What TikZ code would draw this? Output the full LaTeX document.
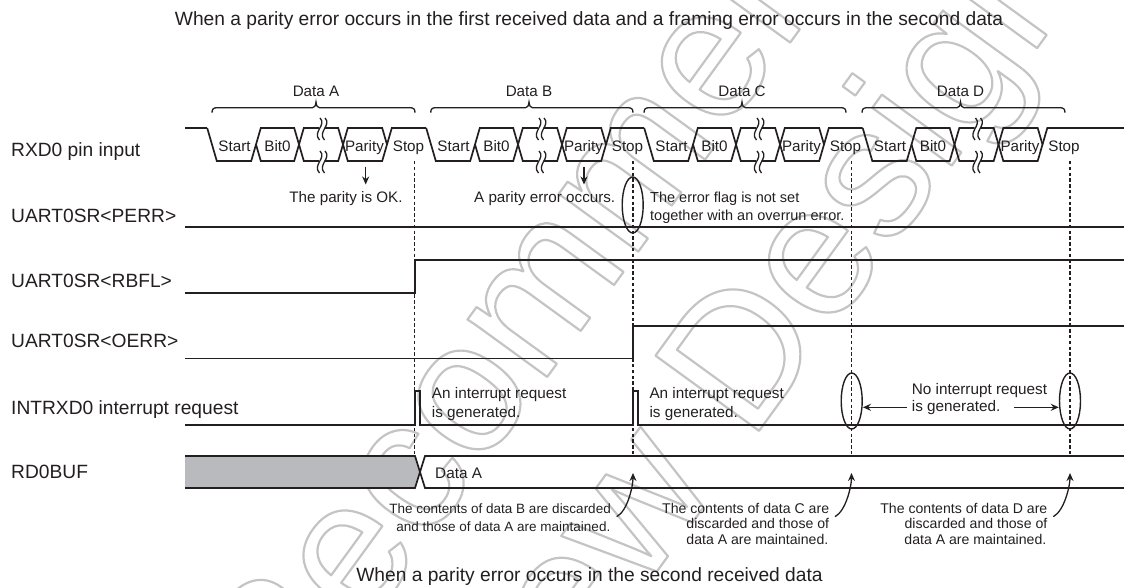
\documentclass[tikz,border=0pt]{standalone}
\usepackage{fontspec}
\setmainfont{Liberation Sans}
\usetikzlibrary{arrows.meta,shapes.geometric}
\definecolor{ink}{HTML}{231F20}
\definecolor{wm}{HTML}{C4C4C4}
\definecolor{greyfill}{HTML}{B9BABD}
\font\wmfont="Liberation Sans" at 186pt
\newcommand{\outlined}[1]{\special{pdf:code 1 Tr 2.2 w 1 j}\wmfont #1\special{pdf:code 0 Tr}}
\tikzset{
  sig/.style={draw=ink,line width=1.7pt,line join=miter},
  guide/.style={draw=ink,line width=1.4pt,dash pattern=on 3.4pt off 2.4pt},
  thin sig/.style={draw=ink,line width=1.3pt},
  oval/.style={ellipse,draw=ink,line width=1.4pt,inner sep=0pt,minimum width=21pt,minimum height=56pt},
  tip/.style={draw=ink,line width=1.3pt,-{Stealth[length=8pt,width=7pt]}},
  water/.style={anchor=base west,inner sep=0pt,rotate=54,text=wm},
  rowlabel/.style={anchor=base west,font=\fontsize{19.2}{22}\selectfont,text=ink,inner sep=0pt},
  title/.style={anchor=base,font=\fontsize{19.2}{22}\selectfont,text=ink,inner sep=0pt},
  bit/.style={anchor=base,font=\fontsize{15.2}{18}\selectfont,text=ink,inner sep=0pt},
  note/.style={anchor=base west,font=\fontsize{15.3}{18}\selectfont,text=ink,inner sep=0pt},
  flagnote/.style={anchor=base west,font=\fontsize{14.5}{18}\selectfont,text=ink,inner sep=0pt},
  small/.style={anchor=base east,font=\fontsize{13.5}{16}\selectfont,text=ink,inner sep=0pt},
  smalltwo/.style={anchor=base east,font=\fontsize{14.1}{16}\selectfont,text=ink,inner sep=0pt},
}
\begin{document}
\begin{tikzpicture}[x=1pt,y=-1pt]
\useasboundingbox (0,0) rectangle (1124,587);
% watermark
\begin{scope}
\clip (0,0) rectangle (1124,587);
\node[water] (wm1) at (284.4,738.7) {\outlined{Recommended}};
\node[water] (wm2) at (501,786) {\outlined{New Design}};
\end{scope}
% titles
\node[title] (t1) at (589,25) {When a parity error occurs in the first received data and a framing error occurs in the second data};
\node[title] (t2) at (589.5,581.7) {When a parity error occurs in the second received data};
% row labels
\node[rowlabel] (l1) at (11,156.5) {RXD0 pin input};
\node[rowlabel] (l2) at (11,222.8) {UART0SR<PERR>};
\node[rowlabel] (l3) at (11,287.5) {UART0SR<RBFL>};
\node[rowlabel] (l4) at (11,347.5) {UART0SR<OERR>};
\node[rowlabel] (l5) at (11,414) {INTRXD0 interrupt request};
\node[rowlabel] (l6) at (11,478) {RD0BUF};
% RXD0 frames
\def\hi{128}\def\lo{161}\def\mi{144.5}\def\dd{4.8}
\draw[sig] (185,\hi) -- (207.2,\hi);
\foreach \s/\nx/\n/\bl/\br/\bt in {212/431/A/212/415/316,431/649/B/430.7/633/529,649/867.5/C/644/846/742,867.5/1124/D/862/1065/960.5}{
  \pgfmathsetmacro{\tone}{\s+44}
  \pgfmathsetmacro{\ttwo}{\s+87}
  \pgfmathsetmacro{\cc}{\s+109.5}
  \pgfmathsetmacro{\tthree}{\s+131}
  \pgfmathsetmacro{\tfour}{\s+175}
  \pgfmathsetmacro{\stopend}{\nx==1124?1124:\nx-\dd}
  \draw[sig] (\s-\dd,\hi) -- (\s+\dd,\lo) -- (\tone-\dd,\lo) -- (\tone+\dd,\hi) -- (\ttwo-\dd,\hi) -- (\ttwo+\dd,\lo) -- (\cc-2.5,\lo);
  \draw[sig] (\tone,\mi) -- (\tone+\dd,\lo) -- (\ttwo-\dd,\lo) -- (\ttwo+\dd,\hi) -- (\cc-2.5,\hi);
  \draw[sig] (\cc+3,\hi) -- (\tthree-\dd,\hi) -- (\tthree+\dd,\lo) -- (\tfour-\dd,\lo) -- (\tfour+\dd,\hi) -- (\stopend,\hi);
  \draw[sig] (\cc+3,\lo) -- (\tthree-\dd,\lo) -- (\tthree+\dd,\hi) -- (\tfour-\dd,\hi) -- (\tfour,\mi);
  % break marks
  \foreach \off in {-2.5,2.5}{
    \foreach \ya/\yb in {118/140,151/173}{
      \draw[thin sig] (\cc+\off+1,\ya) .. controls (\cc+\off+8,\ya+7) and (\cc+\off-7,\yb-8) .. (\cc+\off+0.5,\yb);
    }
  }
  % bit labels
  \node[bit] (start\n) at (\s+22.5,151) {Start};
  \node[bit] (bit\n) at (\s+65.5,151) {Bit0};
  \node[bit] (par\n) at (\s+152.5,151) {Parity};
  \node[bit] (stop\n) at (\s+196.5,151) {Stop};
  % brace
  \draw[thin sig] (\bl,112.7) .. controls (\bl,109) and (\bl+1.5,107.7) .. (\bl+5,107.7) -- (\bt-3.5,107.7) .. controls (\bt-1.5,107.7) and (\bt-0.5,106) .. (\bt,102) .. controls (\bt+0.5,106) and (\bt+1.5,107.7) .. (\bt+3.5,107.7) -- (\br-5,107.7) .. controls (\br-1.5,107.7) and (\br,109) .. (\br,112.7);
  \node[bit] (data\n) at (\bt,96.7) {Data \n};
}
% parity arrows
\coordinate (pa1) at (365.7,166.5); \coordinate (pa2) at (365.7,184.5);
\coordinate (pb1) at (584,166.5); \coordinate (pb2) at (584,184.5);
\draw[tip] (pa1) -- (pa2);
\draw[tip] (pb1) -- (pb2);
\node[bit] (n1) at (346,202.7) {The parity is OK.};
\node[bit] (n2) at (544.7,202.7) {A parity error occurs.};
\node[flagnote] (n3) at (650,202.7) {The error flag is not set};
\node[flagnote] (n4) at (650,220) {together with an overrun error.};
% signal rows
\draw[sig] (185,226.7) -- (1124,226.7);
\draw[sig] (185,293) -- (415,293) -- (415,260) -- (1124,260);
\draw[sig] (185,358.5) -- (633,358.5) -- (633,326) -- (1124,326);
\draw[sig] (185,425) -- (415,425) -- (415,391) -- (420,391) -- (420,425) -- (633,425) -- (633,391) -- (638,391) -- (638,425) -- (1124,425);
% RD0BUF
\fill[greyfill] (185,456) -- (415,456) -- (420,472) -- (415,488) -- (185,488) -- cycle;
\draw[sig] (185,456) -- (415,456) -- (425,488) -- (1124,488);
\draw[sig] (185,488) -- (415,488) -- (425,456) -- (1124,456);
\node[note] (d1) at (435,478.3) {Data A};
% guides
\foreach \x in {414.5,633,851.5,1070}{
  \draw[guide] (\x,161) -- (\x,456);
}
% ovals
\node[oval] (o1) at (632.7,205) {};
\node[oval] (o2) at (851.7,401) {};
\node[oval] (o3) at (1070,401) {};
% interrupt notes
\node[note] (i1) at (431.7,398.3) {An interrupt request};
\node[note] (i2) at (431.7,417.7) {is generated.};
\node[note] (i3) at (649.3,398.3) {An interrupt request};
\node[note] (i4) at (649.3,417.7) {is generated.};
\node[note] (i5) at (911.7,394) {No interrupt request};
\node[note] (i6) at (911.7,411.7) {is generated.};
\coordinate (la) at (906.7,407.3);
\coordinate (ra) at (1014.3,407.3);
\draw[tip] (la) -- (o2.east |- la);
\draw[tip] (ra) -- (o3.west |- ra);
% discard notes
\node[small] (c1) at (611,513.3) {The contents of data B are discarded};
\node[small] (c2) at (610.5,531) {and those of data A are maintained.};
\node[smalltwo] (c3) at (829.3,513.3) {The contents of data C are};
\node[smalltwo] (c4) at (829.3,528.3) {discarded and those of};
\node[smalltwo] (c5) at (828.5,544) {data A are maintained.};
\node[smalltwo] (c6) at (1047.5,513.3) {The contents of data D are};
\node[smalltwo] (c7) at (1047.5,528.3) {discarded and those of};
\node[smalltwo] (c8) at (1046.5,544) {data A are maintained.};
\coordinate (a1) at (616.7,516.7); \coordinate (b1) at (633,473);
\coordinate (a2) at (835,516.7);   \coordinate (b2) at (851.5,473);
\coordinate (a3) at (1053.3,516.7);\coordinate (b3) at (1070,473);
\draw[tip] (a1) .. controls +(11,-6) and +(0,13) .. (b1);
\draw[tip] (a2) .. controls +(11,-6) and +(0,13) .. (b2);
\draw[tip] (a3) .. controls +(11,-6) and +(0,13) .. (b3);
\end{tikzpicture}
\end{document}
